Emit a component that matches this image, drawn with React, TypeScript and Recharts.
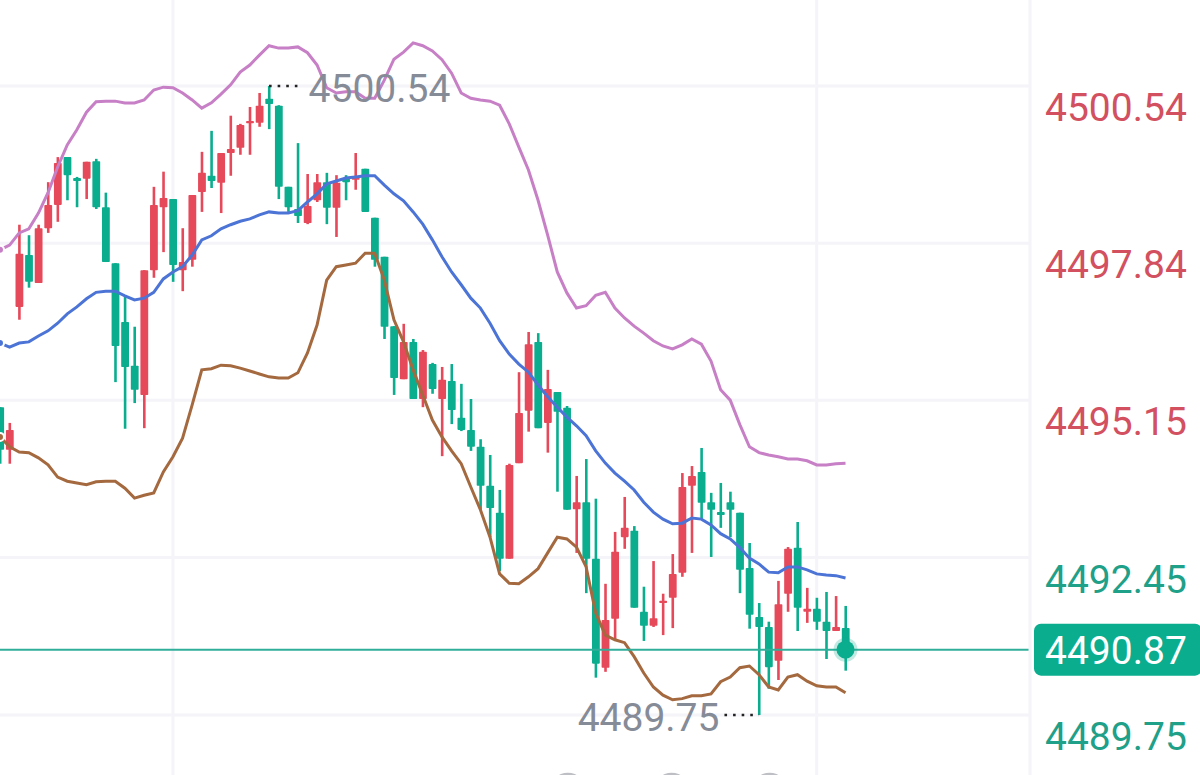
import { Bar, CartesianGrid, ComposedChart, Line, ReferenceDot, ReferenceLine, XAxis, YAxis } from 'recharts'

const opens = [
  4495.03, 4494.30, 4496.75, 4497.64, 4497.16, 4498.10, 4498.50, 4499.32, 4498.96, 4498.95,
  4499.25, 4498.46, 4497.50, 4496.49, 4495.74, 4495.24, 4497.38, 4498.46, 4498.60, 4497.38,
  4497.56, 4498.72, 4499.00, 4498.88, 4499.39, 4499.48, 4499.91, 4499.91, 4500.32, 4500.20,
  4498.81, 4498.43, 4498.19, 4498.58, 4498.89, 4498.45, 4498.95, 4498.93, 4499.12, 4498.28,
  4497.61, 4496.42, 4495.51, 4496.15, 4495.17, 4495.77, 4495.17, 4495.48, 4494.85, 4494.64,
  4494.35, 4493.68, 4493.22, 4492.43, 4494.07, 4494.97, 4496.15, 4494.76, 4495.29, 4495.02,
  4493.28, 4493.40, 4492.43, 4490.56, 4491.40, 4492.80, 4492.91, 4491.52, 4491.28, 4491.67,
  4491.76, 4492.19, 4493.68, 4493.92, 4493.40, 4493.23, 4493.40, 4493.22, 4492.27, 4491.43,
  4491.26, 4490.68, 4491.83, 4492.62, 4491.52, 4491.57, 4491.35, 4491.19, 4491.24,
]
const closes = [
  4494.30, 4494.64, 4497.66, 4497.18, 4498.10, 4498.50, 4499.22, 4499.01, 4498.91, 4499.24,
  4498.46, 4497.52, 4496.08, 4495.72, 4495.33, 4497.38, 4498.50, 4498.62, 4497.47, 4497.52,
  4498.67, 4499.05, 4498.91, 4499.39, 4499.46, 4499.87, 4499.94, 4500.20, 4500.23, 4498.81,
  4498.46, 4498.31, 4498.48, 4498.89, 4498.45, 4498.88, 4498.89, 4498.98, 4498.38, 4497.56,
  4496.41, 4495.53, 4496.15, 4495.17, 4495.98, 4495.34, 4495.50, 4494.98, 4494.64, 4494.35,
  4493.68, 4493.30, 4492.43, 4494.04, 4494.93, 4496.11, 4494.67, 4495.34, 4494.95, 4493.27,
  4493.40, 4492.43, 4490.63, 4491.38, 4492.55, 4492.96, 4491.59, 4491.28, 4491.41, 4491.71,
  4492.17, 4493.66, 4493.85, 4493.39, 4493.27, 4493.18, 4493.27, 4492.24, 4491.47, 4491.26,
  4490.57, 4491.65, 4492.60, 4491.59, 4491.57, 4491.35, 4491.19, 4491.26, 4490.87,
]
const highs = [
  4495.03, 4494.76, 4498.16, 4497.98, 4498.16, 4498.89, 4499.32, 4499.32, 4498.98, 4499.24,
  4499.29, 4498.71, 4497.50, 4496.92, 4496.41, 4497.38, 4498.81, 4499.07, 4498.60, 4498.10,
  4498.67, 4499.41, 4499.77, 4499.39, 4500.03, 4499.89, 4500.18, 4500.42, 4500.54, 4500.21,
  4498.81, 4499.56, 4499.03, 4499.03, 4499.05, 4499.01, 4499.01, 4499.39, 4499.12, 4498.28,
  4497.61, 4496.42, 4496.46, 4496.20, 4496.01, 4495.79, 4495.72, 4495.77, 4495.43, 4495.17,
  4494.48, 4494.21, 4493.61, 4494.06, 4495.63, 4496.32, 4496.30, 4495.67, 4495.29, 4495.05,
  4493.85, 4494.14, 4493.46, 4492.00, 4492.89, 4493.49, 4492.99, 4491.95, 4492.39, 4491.83,
  4492.51, 4493.90, 4494.02, 4494.33, 4493.56, 4493.73, 4493.58, 4493.22, 4492.70, 4491.67,
  4491.35, 4492.05, 4492.63, 4493.06, 4491.93, 4491.76, 4491.86, 4491.79, 4491.62,
]
const lows = [
  4494.06, 4494.06, 4496.53, 4497.08, 4497.16, 4498.02, 4498.21, 4498.58, 4498.46, 4498.60,
  4498.43, 4497.52, 4495.46, 4494.66, 4495.10, 4494.67, 4497.25, 4497.69, 4497.18, 4497.02,
  4497.44, 4498.38, 4498.79, 4498.36, 4499.00, 4499.36, 4499.36, 4499.84, 4499.80, 4498.60,
  4498.38, 4498.19, 4498.17, 4498.55, 4498.17, 4497.95, 4498.58, 4498.76, 4498.38, 4497.44,
  4496.20, 4495.24, 4495.51, 4495.17, 4495.03, 4495.26, 4494.19, 4494.74, 4494.62, 4494.28,
  4493.27, 4492.80, 4492.22, 4492.43, 4494.07, 4494.61, 4494.67, 4494.25, 4493.58, 4493.27,
  4492.53, 4491.84, 4490.39, 4490.49, 4491.05, 4492.60, 4491.59, 4491.02, 4491.26, 4491.12,
  4491.24, 4492.12, 4492.53, 4493.11, 4492.46, 4492.96, 4492.80, 4491.84, 4491.23, 4489.75,
  4490.20, 4490.35, 4491.52, 4491.19, 4491.33, 4491.21, 4490.71, 4491.19, 4490.51,
]
const upperBand = [
  4497.73, 4497.81, 4498.02, 4498.09, 4498.36, 4498.71, 4499.15, 4499.53, 4499.79, 4500.09,
  4500.27, 4500.28, 4500.28, 4500.25, 4500.25, 4500.30, 4500.47, 4500.52, 4500.51, 4500.42,
  4500.30, 4500.16, 4500.25, 4500.40, 4500.56, 4500.78, 4500.90, 4501.07, 4501.23, 4501.19,
  4501.19, 4501.21, 4501.11, 4500.90, 4500.51, 4500.42, 4500.44, 4500.44, 4500.33, 4500.33,
  4500.64, 4501.00, 4501.12, 4501.28, 4501.23, 4501.14, 4500.99, 4500.76, 4500.42, 4500.33,
  4500.30, 4500.28, 4500.21, 4499.89, 4499.49, 4499.10, 4498.58, 4497.98, 4497.35, 4496.99,
  4496.73, 4496.77, 4496.95, 4497.00, 4496.73, 4496.56, 4496.42, 4496.30, 4496.17, 4496.08,
  4496.03, 4496.10, 4496.20, 4496.11, 4495.82, 4495.33, 4495.15, 4494.73, 4494.35, 4494.25,
  4494.21, 4494.18, 4494.14, 4494.14, 4494.11, 4494.04, 4494.04, 4494.06, 4494.07,
]
const middleBand = [
  4496.13, 4496.06, 4496.13, 4496.15, 4496.25, 4496.34, 4496.47, 4496.63, 4496.75, 4496.89,
  4497.00, 4497.02, 4497.02, 4496.94, 4496.87, 4496.90, 4497.00, 4497.23, 4497.35, 4497.44,
  4497.64, 4497.90, 4497.97, 4498.09, 4498.16, 4498.22, 4498.26, 4498.33, 4498.38, 4498.36,
  4498.36, 4498.40, 4498.55, 4498.69, 4498.86, 4498.91, 4498.96, 4498.98, 4499.00, 4499.00,
  4498.84, 4498.69, 4498.57, 4498.38, 4498.17, 4497.90, 4497.61, 4497.35, 4497.13, 4496.90,
  4496.73, 4496.47, 4496.17, 4495.94, 4495.77, 4495.63, 4495.41, 4495.21, 4495.03, 4494.86,
  4494.71, 4494.54, 4494.28, 4494.07, 4493.90, 4493.76, 4493.61, 4493.40, 4493.23, 4493.11,
  4493.03, 4493.04, 4493.13, 4493.11, 4493.01, 4492.86, 4492.77, 4492.62, 4492.44, 4492.34,
  4492.20, 4492.19, 4492.29, 4492.29, 4492.24, 4492.17, 4492.15, 4492.14, 4492.10,
]
const lowerBand = [
  4494.52, 4494.35, 4494.26, 4494.25, 4494.16, 4494.04, 4493.83, 4493.76, 4493.73, 4493.70,
  4493.75, 4493.76, 4493.76, 4493.64, 4493.47, 4493.52, 4493.56, 4493.92, 4494.18, 4494.50,
  4495.07, 4495.67, 4495.69, 4495.75, 4495.74, 4495.70, 4495.65, 4495.60, 4495.55, 4495.53,
  4495.53, 4495.62, 4495.96, 4496.44, 4497.21, 4497.44, 4497.47, 4497.50, 4497.67, 4497.67,
  4497.21, 4496.53, 4496.15, 4495.67, 4495.24, 4494.81, 4494.52, 4494.28, 4494.06, 4493.66,
  4493.27, 4492.80, 4492.17, 4492.01, 4492.00, 4492.12, 4492.26, 4492.53, 4492.80, 4492.77,
  4492.63, 4492.29, 4491.50, 4491.12, 4491.04, 4490.99, 4490.75, 4490.47, 4490.23, 4490.09,
  4490.01, 4490.03, 4490.08, 4490.08, 4490.11, 4490.32, 4490.40, 4490.56, 4490.59, 4490.44,
  4490.23, 4490.18, 4490.40, 4490.44, 4490.33, 4490.25, 4490.23, 4490.23, 4490.13,
]

const axisPrices = [4500.54, 4497.84, 4495.15, 4492.45, 4490.87, 4489.75]
const gridPrices = [4500.54, 4497.84, 4495.15, 4492.45, 4489.75]
const gridCandles = [18, 85]
const bottomMarkers = [59.1, 69.9, 80.1]
const lastPrice = 4490.87
const highPrice = 4500.54
const lowPrice = 4489.75

const UP = '#E6495A'
const DOWN = '#0BAD8F'
const GRID = '#F4F4F9'
const LABEL = '#868B98'

const data = opens.map((open, i) => ({
  index: i,
  open,
  close: closes[i],
  range: [lows[i], highs[i]],
  upper: upperBand[i],
  middle: middleBand[i],
  lower: lowerBand[i],
}))

function Candle(props: any) {
  const { x, y, width, height, payload } = props
  const cx = x + width / 2
  const [low, high] = payload.range
  const perUnit = height / (high - low)
  const top = y + (high - Math.max(payload.open, payload.close)) * perUnit
  const bottom = y + (high - Math.min(payload.open, payload.close)) * perUnit
  const color = payload.close >= payload.open ? UP : DOWN
  return (
    <g>
      <rect x={cx - 1.3} y={y} width={2.6} height={height} fill={color} />
      <rect x={cx - 3.9} y={top} width={7.8} height={Math.max(bottom - top, 2.4)} fill={color} rx={0.8} />
    </g>
  )
}

function PriceTick(props: any) {
  const { x, y, payload } = props
  const value = payload.value
  const text = value.toFixed(2)
  if (value === lastPrice) {
    return (
      <g>
        <rect x={x + 2} y={y - 26} width={168} height={52} rx={7} fill={DOWN} />
        <text x={x + 13} y={y + 14} fontSize={39} fontFamily="Roboto" fill="#FFFFFF">
          {text}
        </text>
      </g>
    )
  }
  const color = value > 4493 ? '#D2505F' : '#1FA088'
  return (
    <text x={x + 13} y={y + 35} fontSize={39} fontFamily="Roboto" fill={color}>
      {text}
    </text>
  )
}

export default function App() {
  return (
    <div style={{ position: 'absolute', left: 0, top: 0, width: 1200, height: 775, background: '#fff', overflow: 'hidden' }}>
      <ComposedChart width={1200} height={775} data={data} margin={{ top: 0, right: 0, bottom: 0, left: 0 }}>
        <CartesianGrid
          stroke={GRID}
          strokeWidth={3}
          horizontalValues={gridPrices}
          verticalValues={gridCandles}
        />
        <XAxis dataKey="index" type="number" domain={[0, 107.2]} hide />
        <YAxis
          orientation="right"
          width={170}
          domain={[4488.72, 4502.015]}
          ticks={axisPrices}
          interval={0}
          tickSize={0}
          tickLine={false}
          axisLine={{ stroke: GRID, strokeWidth: 3 }}
          tick={<PriceTick />}
        />
        <Bar dataKey="range" barSize={8} shape={<Candle />} isAnimationActive={false} />
        <Line dataKey="upper" type="linear" stroke="#C77FC6" strokeWidth={3} dot={false} isAnimationActive={false} />
        <Line dataKey="middle" type="linear" stroke="#4C74D6" strokeWidth={3} dot={false} isAnimationActive={false} />
        <Line dataKey="lower" type="linear" stroke="#A4693F" strokeWidth={3} dot={false} isAnimationActive={false} />
        <ReferenceLine y={lastPrice} stroke="#2FAE9A" strokeWidth={2} />
        <ReferenceDot x={88} y={lastPrice} r={12} fill={DOWN} fillOpacity={0.25} stroke="none" />
        <ReferenceDot x={88} y={lastPrice} r={9} fill={DOWN} stroke="none" />
        <ReferenceLine
          segment={[{ x: 28, y: highPrice }, { x: 31.5, y: highPrice }]}
          stroke="#222"
          strokeWidth={2.6}
          strokeDasharray="2.6 6"
        />
        <ReferenceLine
          segment={[{ x: 75.4, y: lowPrice }, { x: 79, y: lowPrice }]}
          stroke="#222"
          strokeWidth={2.6}
          strokeDasharray="2.6 6"
        />
        <ReferenceDot
          x={31.6}
          y={highPrice}
          r={0}
          stroke="none"
          label={{ value: highPrice.toFixed(2), position: 'right', dy: 2, fontSize: 39, fontFamily: 'Roboto', fill: LABEL }}
        />
        <ReferenceDot
          x={75.4}
          y={lowPrice}
          r={0}
          stroke="none"
          label={{ value: lowPrice.toFixed(2), position: 'left', dy: 2, fontSize: 39, fontFamily: 'Roboto', fill: LABEL }}
        />
        {bottomMarkers.map((m) => (
          <ReferenceDot key={m} x={m} y={4488.45} r={18} fill="#BDBFC4" stroke="none" ifOverflow="visible" />
        ))}
      </ComposedChart>
    </div>
  )
}
